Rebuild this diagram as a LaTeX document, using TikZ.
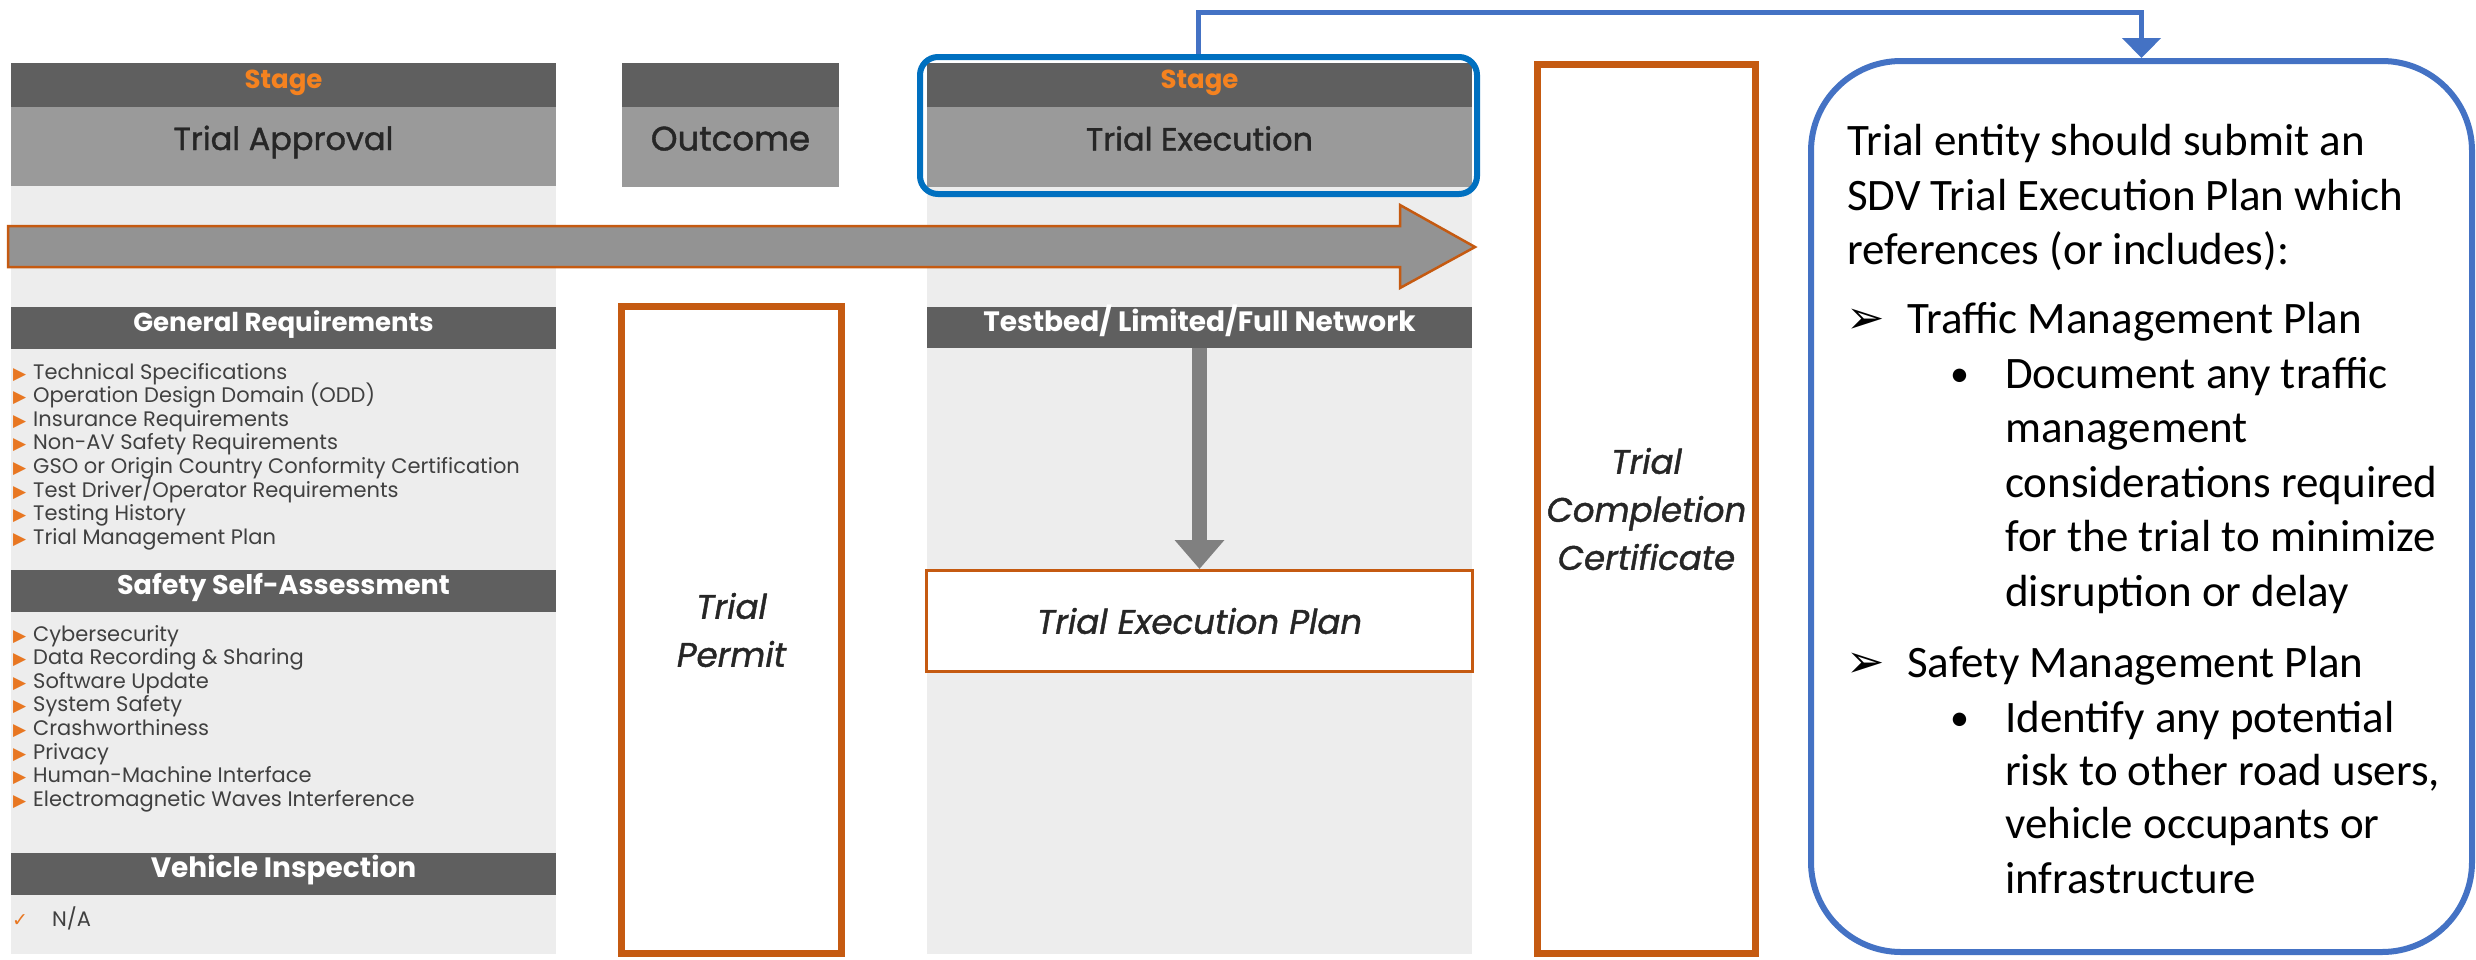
\documentclass[tikz,border=0pt]{standalone}
\usepackage{fontspec}
\setmainfont{Poppins}
\newfontfamily\popmed{Poppins}[FakeBold=1.2]
\newfontfamily\cali{Carlito}
\newfontfamily\dejavu{DejaVu Sans}
\usetikzlibrary{arrows.meta}
\definecolor{darkband}{HTML}{5F5F5F}
\definecolor{midband}{HTML}{9A9A9A}
\definecolor{lightbg}{HTML}{EDEDED}
\definecolor{stageor}{HTML}{F5821F}
\definecolor{bulor}{HTML}{E87722}
\definecolor{lineor}{HTML}{C55A11}
\definecolor{arrgray}{HTML}{939393}
\definecolor{vgray}{HTML}{808080}
\definecolor{blueR}{HTML}{0070C0}
\definecolor{blueL}{HTML}{4472C4}
\definecolor{txtdark}{HTML}{262626}
\definecolor{txtlist}{HTML}{404040}
\newcommand{\bul}{\makebox[20pt][l]{\raisebox{0pt}{\color{bulor}\dejavu\fontsize{17}{17}\selectfont ▶}}}
\begin{document}
\begin{tikzpicture}[x=1pt,y=-1pt,
  band/.style={fill=darkband,inner sep=0pt,outer sep=0pt,text height=0.7em,text depth=0pt},
  midb/.style={fill=midband,inner sep=0pt,outer sep=0pt,text height=0.7em,text depth=0pt,text=txtdark,font=\popmed\fontsize{32}{36}\selectfont},
  stagelbl/.style={text=stageor,font=\bfseries\fontsize{26}{30}\selectfont},
  sechdr/.style={fill=darkband,inner sep=0pt,outer sep=0pt,text height=0.7em,text depth=0pt,text=white,minimum width=545pt,minimum height=42pt},
  hfont/.style={font=\bfseries\fontsize{#1}{30}\selectfont},
  item/.style={anchor=base west,inner sep=0pt,text=txtlist,font=\fontsize{21}{24}\selectfont},
  obox/.style={draw=lineor,line width=7pt,fill=white,inner sep=0pt,align=center,text=txtdark,font=\popmed\itshape\fontsize{34}{48}\selectfont},
  rtxt/.style={anchor=base west,inner sep=0pt,text=black,font=\cali\fontsize{45}{54}\selectfont},
  rsym/.style={anchor=base west,inner sep=0pt,text=black}
]
\useasboundingbox (0,0) rectangle (2476,959);
\fill[white] (0,0) rectangle (2476,959);
% column backgrounds
\fill[lightbg] (11,186) rectangle (556,954);
\fill[lightbg] (927,187) rectangle (1472,954);
% Trial approval header
\node[band,stagelbl,minimum width=545pt,minimum height=44pt] (s1) at (283.5,85) {Stage};
\node[midb,minimum width=545pt,minimum height=79pt] (ta) at (283.5,146.5) {Trial Approval};
% Outcome header
\node[band,minimum width=217pt,minimum height=44pt] (s2) at (730.5,85) {};
\node[midb,minimum width=217pt,minimum height=80pt,font=\popmed\fontsize{34}{36}\selectfont] (oc) at (730.5,147) {Outcome};
% Trial execution header
\node[band,stagelbl,minimum width=545pt,minimum height=44pt] (s3) at (1199.5,85) {Stage};
\node[midb,minimum width=545pt,minimum height=80pt] (te) at (1199.5,147) {Trial Execution};
\node[draw=blueR,line width=6pt,rounded corners=18pt,minimum width=557pt,minimum height=137pt,inner sep=0pt] (exhdr) at (1198.5,125.5) {};
% big arrow
\filldraw[fill=arrgray,draw=lineor,line width=2.5pt,line join=miter] (8,226) -- (1400,226) -- (1400,205) -- (1475,247) -- (1400,288) -- (1400,267) -- (8,267) -- cycle;
% section headers
\node[sechdr,hfont=26] (gr) at (283.5,328) {General Requirements};
\node[sechdr,hfont=27] (ssa) at (283.5,591) {Safety Self-Assessment};
\node[sechdr,hfont=28] (vi) at (283.5,874) {Vehicle Inspection};
\node[sechdr,hfont=28,minimum height=41pt] (tb) at (1199.5,327.5) {Testbed/ Limited/Full Network};
% general requirement items
\node[item] (g1) at (13,379) {\bul Technical Specifications};
\node[item] (g2) at (13,402.6) {\bul Operation Design Domain (ODD)};
\node[item] (g3) at (13,426.2) {\bul Insurance Requirements};
\node[item] (g4) at (13,449.8) {\bul Non-AV Safety Requirements};
\node[item] (g5) at (13,473.4) {\bul GSO or Origin Country Conformity Certification};
\node[item] (g6) at (13,497) {\bul Test Driver/Operator Requirements};
\node[item] (g7) at (13,520.6) {\bul Testing History};
\node[item] (g8) at (13,544.2) {\bul Trial Management Plan};
% safety items
\node[item] (a1) at (13,641) {\bul Cybersecurity};
\node[item] (a2) at (13,664.6) {\bul Data Recording \& Sharing};
\node[item] (a3) at (13,688.2) {\bul Software Update};
\node[item] (a4) at (13,711.8) {\bul System Safety};
\node[item] (a5) at (13,735.4) {\bul Crashworthiness};
\node[item] (a6) at (13,759) {\bul Privacy};
\node[item] (a7) at (13,782.6) {\bul Human-Machine Interface};
\node[item] (a8) at (13,806.2) {\bul Electromagnetic Waves Interference};
% vehicle inspection
\node[item] (v1) at (12,926) {\makebox[40pt][l]{\color{bulor}\dejavu\fontsize{19}{19}\selectfont ✓}N/A};
% outcome boxes
\node[obox,minimum width=220pt,minimum height=647pt] (tp) at (731.5,630) {Trial\\Permit};
\node[obox,minimum width=218pt,minimum height=889pt] (tc) at (1646.5,509) {Trial\\Completion\\Certificate};
% trial execution plan
\node[draw=lineor,line width=3pt,fill=white,minimum width=546pt,minimum height=101pt,inner sep=0pt,text=txtdark,font=\popmed\itshape\fontsize{34}{40}\selectfont] (tep) at (1199.5,621) {Trial Execution Plan};
\draw[vgray,line width=15pt,-{Triangle[width=48pt,length=29pt]}] (tb.south) -- (tep.north);
% right rounded box
\node[draw=blueL,line width=6pt,rounded corners=90pt,minimum width=661pt,minimum height=891pt,inner sep=0pt] (rbox) at (2141.5,506.5) {};
\draw[blueL,line width=5pt,-{Triangle[width=38pt,length=20pt]}] (exhdr.north) -- ++(0,-42) -| (rbox.north);
% right text
\node[rtxt] (r1) at (1847,155) {Trial entity should submit an};
\node[rtxt] (r2) at (1847,210) {SDV Trial Execution Plan which};
\node[rtxt] (r3) at (1847,264) {references (or includes):};
\node[rsym,font=\dejavu\fontsize{46}{50}\selectfont] (k1) at (1846,333) {➢};
\node[rtxt] (r4) at (1907,333) {Traffic Management Plan};
\node[rsym,font=\cali\fontsize{38}{54}\selectfont] (b1) at (1950,386) {•};
\node[rtxt] (r5) at (2005,388) {Document any traffic};
\node[rtxt] (r6) at (2005,442) {management};
\node[rtxt] (r7) at (2005,497) {considerations required};
\node[rtxt] (r8) at (2005,551) {for the trial to minimize};
\node[rtxt] (r9) at (2005,606) {disruption or delay};
\node[rsym,font=\dejavu\fontsize{46}{50}\selectfont] (k2) at (1846,677) {➢};
\node[rtxt] (r10) at (1907,677) {Safety Management Plan};
\node[rsym,font=\cali\fontsize{38}{54}\selectfont] (b2) at (1950,730) {•};
\node[rtxt] (r11) at (2005,732) {Identify any potential};
\node[rtxt] (r12) at (2005,785) {risk to other road users,};
\node[rtxt] (r13) at (2005,838) {vehicle occupants or};
\node[rtxt] (r14) at (2005,893) {infrastructure};
\end{tikzpicture}
\end{document}
